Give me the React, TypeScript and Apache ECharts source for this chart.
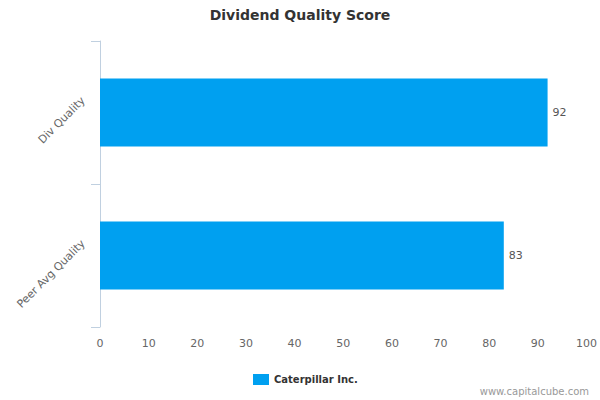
import React, { useEffect, useRef } from "react";
import * as echarts from "echarts";

const categories = ["Div Quality", "Peer Avg Quality"];
const values = [92, 83];
const seriesName = "Caterpillar Inc.";
const titleText = "Dividend Quality Score";
const watermark = "www.capitalcube.com";

const FONT = "DejaVu Sans, Verdana, sans-serif";

export default function App() {
  const ref = useRef<HTMLDivElement>(null);
  useEffect(() => {
    if (!ref.current) return;
    const chart = echarts.init(ref.current, undefined, { renderer: "svg" });
    chart.setOption({
      animation: false,
      backgroundColor: "#ffffff",
      textStyle: { fontFamily: FONT },
      title: {
        text: titleText,
        left: "center",
        top: 3,
        textStyle: { fontFamily: FONT, fontSize: 14, fontWeight: "bold", color: "#333333" },
      },
      grid: { left: 100, right: 8, top: 41, bottom: 73, containLabel: false },
      xAxis: {
        type: "value",
        min: 0,
        max: 100,
        interval: 10,
        splitLine: { show: false },
        axisLine: { show: false },
        axisTick: { show: false },
        axisLabel: { color: "#666666", fontSize: 11, margin: 11, fontFamily: FONT },
      },
      yAxis: {
        type: "category",
        data: categories,
        inverse: true,
        axisLine: { show: true, lineStyle: { color: "#C0D0E0", width: 1 } },
        axisTick: { show: true, length: 9, lineStyle: { color: "#C0D0E0" } },
        axisLabel: {
          rotate: 45,
          color: "#666666",
          fontSize: 11,
          margin: 3,
          verticalAlign: "bottom",
          padding: [0, 0, 14, 0],
          fontFamily: FONT,
        },
      },
      legend: {
        data: [seriesName],
        left: 253,
        top: 374,
        padding: 0,
        icon: "rect",
        itemWidth: 16,
        itemHeight: 11,
        itemGap: 6,
        textStyle: { fontFamily: FONT, fontSize: 10, fontWeight: "bold", color: "#333333" },
      },
      graphic: [
        {
          type: "text",
          right: 11,
          top: 386,
          style: { text: watermark, fill: "#999999", fontSize: 10, fontFamily: FONT },
        },
      ],
      series: [
        {
          name: seriesName,
          type: "bar",
          data: values,
          barWidth: 68,
          itemStyle: { color: "#00A0F0" },
          label: {
            show: true,
            position: "right",
            distance: 5,
            color: "#555555",
            fontSize: 11,
            fontFamily: FONT,
          },
        },
      ],
    });
    return () => chart.dispose();
  }, []);
  return (
    <div
      ref={ref}
      style={{ width: 600, height: 400, position: "fixed", left: 0, top: 0 }}
    />
  );
}
